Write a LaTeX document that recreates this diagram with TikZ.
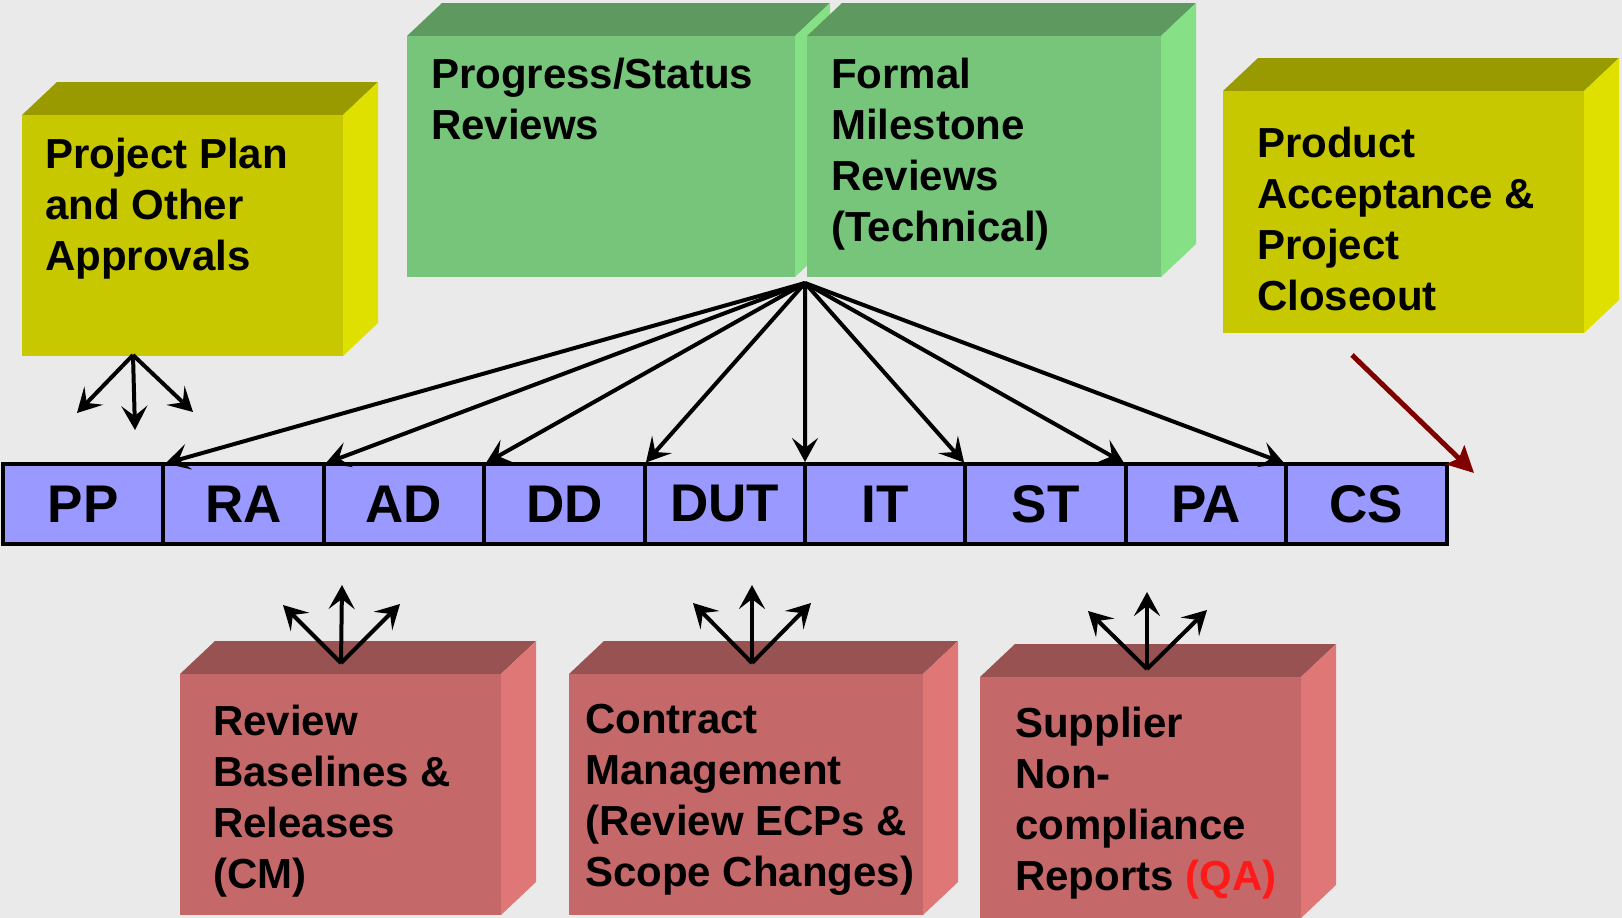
\documentclass[tikz,border=0pt]{standalone}
\usepackage{fontspec}
\setmainfont{Liberation Sans}
\usetikzlibrary{arrows.meta}

\definecolor{bg}{HTML}{EAEAEA}
\definecolor{yfront}{HTML}{C8C800}
\definecolor{ytop}{HTML}{999900}
\definecolor{yside}{HTML}{E0E000}
\definecolor{gfront}{HTML}{77C57A}
\definecolor{gtop}{HTML}{5E9A60}
\definecolor{gside}{HTML}{86E086}
\definecolor{rfront}{HTML}{C4686A}
\definecolor{rtop}{HTML}{985252}
\definecolor{rside}{HTML}{E07777}
\definecolor{phasefill}{HTML}{9999FF}
\definecolor{closeoutred}{HTML}{800000}
\definecolor{qared}{HTML}{FF1A1A}

% multi-line label whose baseline is the first line
\newcommand\textlines[1]{\begin{tabular}[t]{@{}l@{}}#1\end{tabular}}

% a solid block: name, x1, y1, x2, y2 (front face corners), front, top and side colours
\newcommand\solid[8]{%
  \fill[#7] (#2,#3) -- (#2+35,#3-33) -- (#4+35,#3-33) -- (#4,#3) -- cycle;
  \fill[#8] (#4,#3) -- (#4+35,#3-33) -- (#4+35,#5-33) -- (#4,#5) -- cycle;
  \node[fill=#6, inner sep=0pt, outer sep=0pt,
        minimum width={(#4-#2)*1pt}, minimum height={(#5-#3)*1pt}]
        (#1) at ({(#2+#4)/2},{(#3+#5)/2}) {};
}

\tikzset{
  boxtext/.style={anchor=base west, inner sep=0pt,
    font=\fontsize{42}{51}\selectfont\bfseries},
  phase/.style={draw=black, line width=4pt, fill=phasefill,
    minimum width=160.4pt, minimum height=80pt, inner sep=0pt, outer sep=0pt,
    font=\fontsize{53}{60}\selectfont\bfseries},
  link/.style={draw=black, line width=4pt,
    -{Stealth[length=24pt,width=26pt,inset=10pt]}},
  closeout arrow/.style={draw=closeoutred, line width=5pt,
    -{Stealth[length=26pt,width=26pt,inset=5pt]}},
}

\begin{document}
\begin{tikzpicture}[x=1pt,y=-1pt]
\fill[bg] (0,0) rectangle (1622,918);
\useasboundingbox (0,0) rectangle (1622,918);

% upper blocks
\solid{plan}{22}{115}{343}{356}{yfront}{ytop}{yside}
\node[boxtext] (plantext) at (45,168) {\textlines{Project Plan\\and Other\\Approvals}};

\solid{progress}{407}{36}{795}{277}{gfront}{gtop}{gside}
\node[boxtext] (progresstext) at (431,88) {\textlines{Progress/Status\\Reviews}};

\solid{milestone}{807}{36}{1161}{277}{gfront}{gtop}{gside}
\node[boxtext] (milestonetext) at (831,88) {\textlines{Formal\\Milestone\\Reviews\\(Technical)}};

\solid{closeout}{1223}{91}{1584}{333}{yfront}{ytop}{yside}
\node[boxtext] (closeouttext) at (1257,157) {\textlines{Product\\Acceptance \&\\Project\\Closeout}};

% phase bar
\node[phase] (pp) at (83.2,504) {PP};
\node[phase, anchor=west] (ra) at (pp.east) {RA};
\node[phase, anchor=west] (ad) at (ra.east) {AD};
\node[phase, anchor=west] (dd) at (ad.east) {DD};
\node[phase, anchor=west] (dut) at (dd.east) {DUT};
\node[phase, anchor=west] (it) at (dut.east) {IT};
\node[phase, anchor=west] (st) at (it.east) {ST};
\node[phase, anchor=west] (pa) at (st.east) {PA};
\node[phase, anchor=west] (cs) at (pa.east) {CS};

% reviews fan out to each phase boundary
\coordinate (hub) at (805,283);
\foreach \c in {ra,ad,dd,dut,it,st,pa,cs}
  \draw[link, shorten >=2pt] (hub) -- (\c.north west);

% closeout arrow
\coordinate (closeoutstart) at (1352,355);
\coordinate (closeoutend) at (1474,473);
\draw[closeout arrow] (closeoutstart) -- (closeoutend);

% approvals fan
\coordinate (planfan) at (133,355);
\coordinate (planfanl) at (77,413);
\coordinate (planfanm) at (135,430);
\coordinate (planfanr) at (193,412);
\foreach \t in {planfanl,planfanm,planfanr}
  \draw[link] (planfan) -- (\t);

% lower blocks
\solid{baselines}{180}{674}{501}{915}{rfront}{rtop}{rside}
\node[boxtext] (baselinestext) at (213,735) {\textlines{Review\\Baselines \&\\Releases\\(CM)}};

\solid{contract}{569}{674}{923}{915}{rfront}{rtop}{rside}
\node[boxtext] (contracttext) at (585,733) {\textlines{Contract\\Management\\(Review ECPs \&\\Scope Changes)}};

\solid{supplier}{980}{677}{1301}{918}{rfront}{rtop}{rside}
\node[boxtext] (suppliertext) at (1015,737) {\textlines{Supplier\\Non-\\compliance\\Reports \textcolor{qared}{(QA)}}};

% fans above the lower blocks
\coordinate (cmfan) at (341,663);
\coordinate (cmfanl) at (283,605);
\coordinate (cmfanm) at (342,585);
\coordinate (cmfanr) at (400,604);
\foreach \t in {cmfanl,cmfanm,cmfanr}
  \draw[link] (cmfan) -- (\t);

\coordinate (ctfan) at (752,663);
\coordinate (ctfanl) at (693,603);
\coordinate (ctfanm) at (752,585);
\coordinate (ctfanr) at (811,603);
\foreach \t in {ctfanl,ctfanm,ctfanr}
  \draw[link] (ctfan) -- (\t);

\coordinate (qafan) at (1147,669);
\coordinate (qafanl) at (1088,611);
\coordinate (qafanm) at (1147,592);
\coordinate (qafanr) at (1207,610);
\foreach \t in {qafanl,qafanm,qafanr}
  \draw[link] (qafan) -- (\t);
\end{tikzpicture}
\end{document}
